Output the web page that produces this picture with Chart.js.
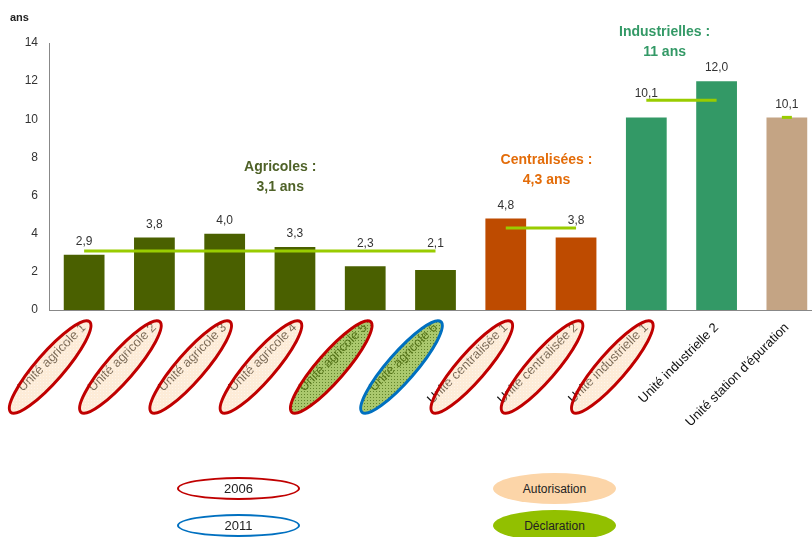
<!DOCTYPE html>
<html>
<head>
<meta charset="utf-8">
<script src="https://cdn.jsdelivr.net/npm/chart.js@4"></script>
<style>
  body { margin: 0; overflow: hidden; background: #fff; font-family: "Liberation Sans", Arial, sans-serif; }
  #wrap { position: relative; width: 830px; height: 537px; }
  .leg { position: absolute; box-sizing: border-box; border-radius: 50%; display: flex; align-items: center; justify-content: center; font-size: 13px; color: #222; }
</style>
</head>
<body>
<div id="wrap">
  <canvas id="grafico"></canvas>
  <div class="leg" style="left:177px;top:477px;width:123px;height:23px;border:2px solid #C00000;">2006</div>
  <div class="leg" style="left:177px;top:514px;width:123px;height:23px;border:2px solid #0070C0;">2011</div>
  <div class="leg" style="left:493px;top:473px;width:123px;height:31px;background:#FCD5A8;font-size:12px;">Autorisation</div>
  <div class="leg" style="left:493px;top:510px;width:123px;height:31px;background:#92C000;font-size:12px;">Déclaration</div>
</div>
<script>
const categories = ['Unité agricole 1', 'Unité agricole 2', 'Unité agricole 3', 'Unité agricole 4', 'Unité agricole 5', 'Unité agricole 6',
  'Unité centralisée 1', 'Unité centralisée 2', 'Unité industrielle 1', 'Unité industrielle 2', "Unité station d'épuration"];
const durees = [2.9, 3.8, 4.0, 3.3, 2.3, 2.1, 4.8, 3.8, 10.1, 12.0, 10.1];
const secteurs = ['agricole', 'agricole', 'agricole', 'agricole', 'agricole', 'agricole', 'centralisee', 'centralisee', 'industrielle', 'industrielle', 'station'];
const moyAgricoles = [3.1, 3.1, 3.1, 3.1, 3.1, 3.1, null, null, null, null, null];
const moyCentralisees = [null, null, null, null, null, null, 4.3, 4.3, null, null, null];
const moyIndustrielles = [null, null, null, null, null, null, null, null, 11, 11, null];
const moyStation = [null, null, null, null, null, null, null, null, null, null, 10.1];
const annees = ['2006', '2006', '2006', '2006', '2006', '2011', '2006', '2006', '2006', null, null];
const regimes = ['Autorisation', 'Autorisation', 'Autorisation', 'Autorisation', 'Déclaration', 'Déclaration', 'Autorisation', 'Autorisation', 'Autorisation', null, null];
const yTicks = [0, 2, 4, 6, 8, 10, 12, 14];

const couleurs = { agricole: '#4A6000', centralisee: '#BE4B00', industrielle: '#339966', station: '#C4A484' };
const couleurAnnee = { '2006': '#C00000', '2011': '#0070C0' };
const moyennes = [moyAgricoles, moyCentralisees, moyIndustrielles, moyStation];

// textes des groupes (position en index de catégorie / valeur)
const notes = [
  { lignes: ['Agricoles :', '3,1 ans'], couleur: '#4F6228', idx: 2.79, val: 7.5 },
  { lignes: ['Centralisées :', '4,3 ans'], couleur: '#E36C09', idx: 6.58, val: 7.87 },
  { lignes: ['Industrielles :', '11 ans'], couleur: '#339966', idx: 8.26, val: 14.58 }
];

const fmt = v => v.toFixed(1).replace('.', ',');

function motif(ctx, fond, point) {
  const c = document.createElement('canvas');
  c.width = 3; c.height = 3;
  const p = c.getContext('2d');
  p.fillStyle = fond; p.fillRect(0, 0, 3, 3);
  p.fillStyle = point; p.fillRect(1, 1, 1, 1);
  return ctx.createPattern(c, 'repeat');
}

const decorations = {
  id: 'decorations',
  afterDatasetsDraw(chart) {
    const { ctx, scales: { x, y } } = chart;
    ctx.save();
    // valeurs au-dessus des barres
    ctx.font = '12px "Liberation Sans", Arial, sans-serif';
    ctx.fillStyle = '#333';
    ctx.textAlign = 'center';
    ctx.textBaseline = 'middle';
    durees.forEach((v, i) => {
      let py = y.getPixelForValue(v) - 13;
      moyennes.forEach(m => { if (m[i] != null) py = Math.min(py, y.getPixelForValue(m[i]) - 7); });
      ctx.fillText(fmt(v), x.getPixelForValue(i), py);
    });
    // textes des groupes
    ctx.font = 'bold 14px "Liberation Sans Narrow", "Liberation Sans", Arial, sans-serif';
    notes.forEach(n => {
      ctx.fillStyle = n.couleur;
      n.lignes.forEach((l, k) => ctx.fillText(l, x.getPixelForValue(n.idx), y.getPixelForValue(n.val) + k * 20));
    });
    // unité de l'axe
    ctx.font = 'bold 11px "Liberation Sans", Arial, sans-serif';
    ctx.fillStyle = '#222';
    ctx.textAlign = 'left';
    ctx.fillText('ans', 10, 18);
    ctx.restore();
  },
  afterDraw(chart) {
    const { ctx, scales: { x } } = chart;
    const peche = motif(ctx, 'rgba(251,212,168,0.45)', 'rgba(255,255,255,0.45)');
    const vert = motif(ctx, 'rgba(125,170,30,0.65)', 'rgba(70,105,15,0.7)');
    ctx.save();
    categories.forEach((c, i) => {
      if (!annees[i]) return;
      const cx = x.getPixelForValue(i) - 34;
      const cy = x.top + 57;
      ctx.beginPath();
      ctx.ellipse(cx, cy, 60, 14, -49 * Math.PI / 180, 0, Math.PI * 2);
      ctx.fillStyle = regimes[i] === 'Déclaration' ? vert : peche;
      ctx.fill();
      ctx.lineWidth = 3;
      ctx.strokeStyle = couleurAnnee[annees[i]];
      ctx.stroke();
    });
    ctx.restore();
  }
};

const lignesMoy = moyennes.map((m, k) => ({
  type: 'line',
  data: m,
  borderColor: '#99CC00',
  backgroundColor: '#99CC00',
  borderWidth: 3,
  pointRadius: k === 3 ? 5 : 0,
  pointStyle: 'line',
  pointBorderWidth: 3,
  spanGaps: false,
  order: 0
}));

new Chart(document.getElementById('grafico'), {
  type: 'bar',
  data: {
    labels: categories,
    datasets: [
      ...lignesMoy,
      {
        type: 'bar',
        data: durees,
        backgroundColor: secteurs.map(s => couleurs[s]),
        categoryPercentage: 1,
        barPercentage: 0.58,
        order: 1
      }
    ]
  },
  options: {
    responsive: true,
    maintainAspectRatio: false,
    animation: false,
    layout: { padding: { top: 43, right: 6, left: 0, bottom: 0 } },
    plugins: { legend: { display: false }, tooltip: { enabled: false } },
    scales: {
      x: {
        grid: { display: false, drawTicks: false },
        border: { display: true, color: '#888', width: 1 },
        ticks: {
          autoSkip: false, minRotation: 45, maxRotation: 45, padding: 10,
          color: '#111', font: { family: '"Liberation Sans", Arial, sans-serif', size: 13 }
        },
        afterFit: s => { s.height = 227; }
      },
      y: {
        min: 0, max: 14,
        afterBuildTicks: s => { s.ticks = yTicks.map(v => ({ value: v })); },
        grid: { display: false, drawTicks: false },
        border: { display: true, color: '#888', width: 1 },
        ticks: { padding: 11, color: '#333', font: { family: '"Liberation Sans", Arial, sans-serif', size: 12 } },
        afterFit: s => { s.width = 49; }
      }
    }
  },
  plugins: [decorations]
});
</script>
</body>
</html>
